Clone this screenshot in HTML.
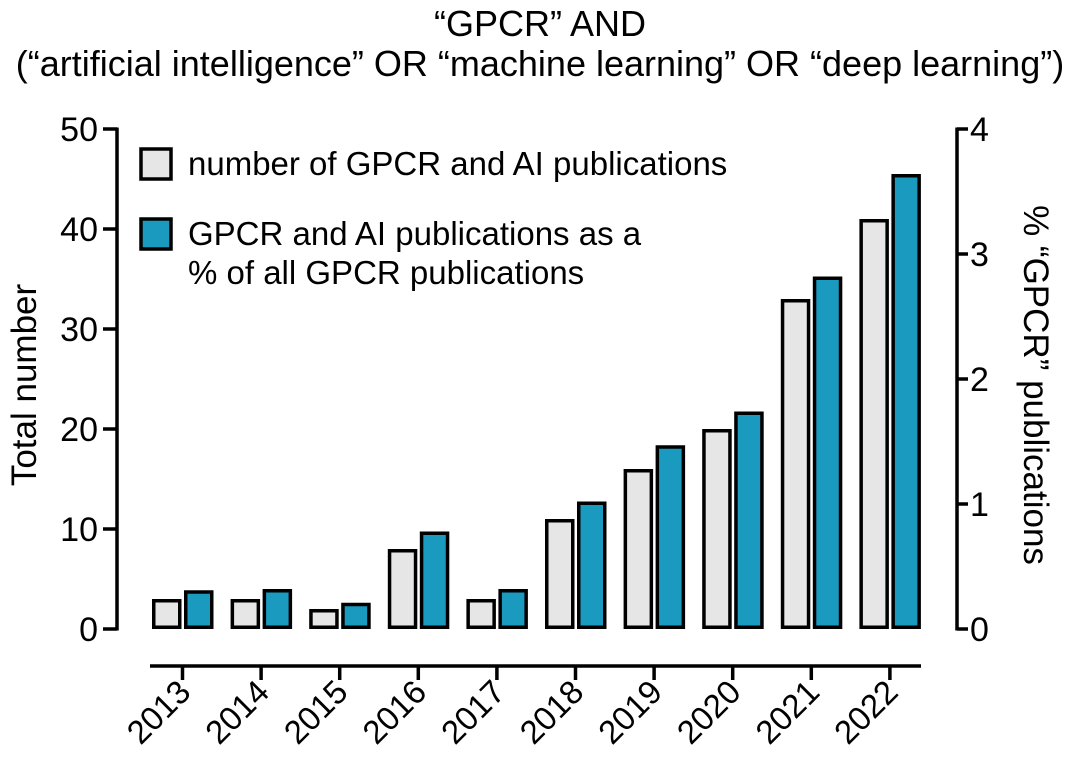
<!DOCTYPE html>
<html><head><meta charset="utf-8"><style>
body{margin:0;background:#fff;}
svg{display:block;font-family:"Liberation Sans",Arial,sans-serif;}
</style></head><body>
<svg id="chart" width="1080" height="761" viewBox="0 0 1080 761">
<text x="540" y="36" text-anchor="middle" font-size="36">“GPCR” AND</text>
<text x="540" y="76" text-anchor="middle" font-size="36">(“artificial intelligence” OR “machine learning” OR “deep learning”)</text>
<g id="bars"></g>
<g id="axes"></g>
<text transform="translate(36,385) rotate(-90)" text-anchor="middle" font-size="35">Total number</text>
<text transform="translate(1024,385) rotate(90)" text-anchor="middle" font-size="35">% “GPCR” publications</text>
<g>
<rect x="141" y="149" width="30" height="30" fill="#e6e6e6" stroke="#000" stroke-width="3.5"/>
<text x="188" y="175" font-size="33">number of GPCR and AI publications</text>
<rect x="141" y="219" width="30" height="30" fill="#1b9abf" stroke="#000" stroke-width="3.5"/>
<text x="188" y="245" font-size="33">GPCR and AI publications as a</text>
<text x="188" y="284" font-size="33">% of all GPCR publications</text>
</g>
</svg>
<script>
const years = ["2013","2014","2015","2016","2017","2018","2019","2020","2021","2022"];
const counts = [3,3,2,8,3,11,16,20,33,41];
const percents = [0.31,0.32,0.21,0.78,0.32,1.02,1.47,1.74,2.82,3.64];
const leftTicks = [0,10,20,30,40,50];
const rightTicks = [0,1,2,3,4];

const NS="http://www.w3.org/2000/svg";
const y0=629, yTop=129;
const yL=v=>y0-(v/50)*(y0-yTop);
const yR=v=>y0-(v/4)*(y0-yTop);
const xC=i=>182.5+i*78.6;
function mk(tag,attrs,parent){const e=document.createElementNS(NS,tag);for(const k in attrs)e.setAttribute(k,attrs[k]);parent.appendChild(e);return e;}
const bars=document.getElementById('bars'), axes=document.getElementById('axes');
const bw=26;
years.forEach((yr,i)=>{
  const c=xC(i);
  const g=mk('rect',{x:c-30.5+1.75,y:yL(counts[i])+1.75,width:bw,height:y0-yL(counts[i])-3.5,fill:'#e6e6e6',stroke:'#000','stroke-width':3.5},bars);
  
  
  const b=mk('rect',{x:c+1.5+1.75,y:yR(percents[i])+1.75,width:bw,height:y0-yR(percents[i])-3.5,fill:'#1b9abf',stroke:'#000','stroke-width':3.5},bars);
  
  
  const t=mk('line',{x1:c,x2:c,y1:666,y2:680,stroke:'#000','stroke-width':3.5},axes);
  
  
  const l=mk('text',{transform:`translate(${c+10},${694}) rotate(-45)`,'text-anchor':'end','font-size':33},axes);
  l.textContent=yr;
  
  
});
const xa=mk('line',{x1:150,x2:921,y1:666,y2:666,stroke:'#000','stroke-width':3.5},axes);


const la=mk('line',{x1:117,x2:117,y1:yTop-1.5,y2:y0+1.5,stroke:'#000','stroke-width':3.5},axes);


leftTicks.forEach(v=>{
  const t=mk('line',{x1:103,x2:117,y1:yL(v),y2:yL(v),stroke:'#000','stroke-width':3.5},axes);
  
  
  const l=mk('text',{x:98,y:yL(v)+12,'text-anchor':'end','font-size':34},axes);
  l.textContent=v;
  
  
});
const ra=mk('line',{x1:957,x2:957,y1:yTop-1.5,y2:y0+1.5,stroke:'#000','stroke-width':3.5},axes);


rightTicks.forEach(v=>{
  const t=mk('line',{x1:957,x2:968,y1:yR(v),y2:yR(v),stroke:'#000','stroke-width':3.5},axes);
  
  
  const l=mk('text',{x:970,y:yR(v)+12,'text-anchor':'start','font-size':34},axes);
  l.textContent=v;
  
  
});
</script>
</body></html>
